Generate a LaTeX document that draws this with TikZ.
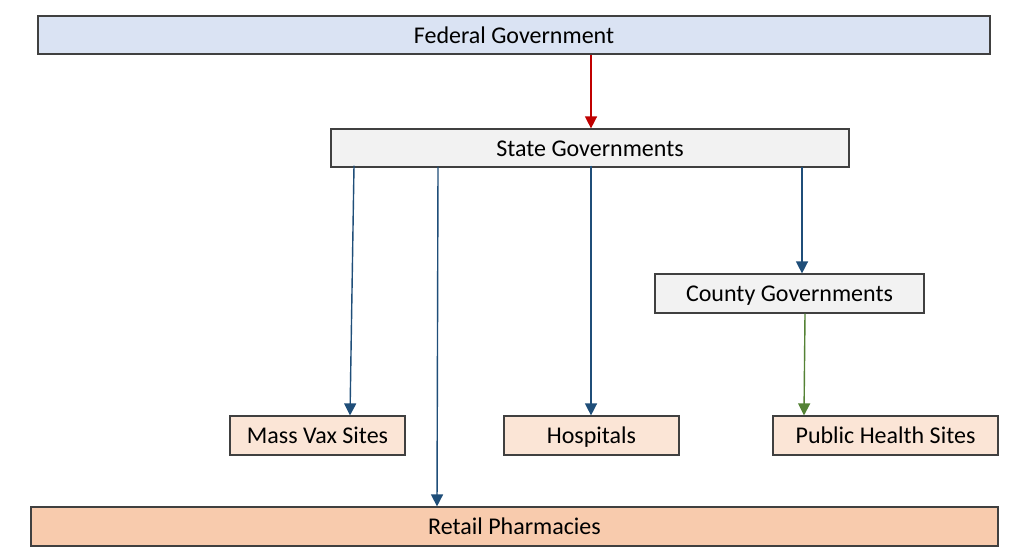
\documentclass[tikz,border=0pt]{standalone}
\usepackage{fontspec}
\setmainfont{Carlito}
\usetikzlibrary{arrows.meta}
\definecolor{fedfill}{HTML}{DAE3F3}
\definecolor{grayfill}{HTML}{F2F2F2}
\definecolor{peachfill}{HTML}{FBE5D6}
\definecolor{retailfill}{HTML}{F8CBAD}
\definecolor{boxline}{HTML}{404040}
\definecolor{redarrow}{HTML}{C00000}
\definecolor{bluearrow}{HTML}{1F4E79}
\definecolor{greenarrow}{HTML}{548235}
\tikzset{
  box/.style={draw=boxline, line width=1.2pt, inner sep=0pt, font=\fontsize{24}{28}\selectfont, text=black, text height=19pt, text depth=3pt},
  conn/.style={line width=1.4pt, -{Triangle[width=12pt,length=12pt]}},
}
\begin{document}
\begin{tikzpicture}[x=1pt,y=-1pt]
\useasboundingbox (0,0) rectangle (1024,557);
\fill[white] (0,0) rectangle (1024,557);
\node[box, fill=fedfill, minimum width=952pt, minimum height=38pt] (fed) at (514,35) {Federal Government};
\node[box, fill=grayfill, minimum width=518pt, minimum height=38pt] (state) at (590,148) {State Governments};
\node[box, fill=grayfill, minimum width=269pt, minimum height=39pt] (county) at (789.5,293.5) {County Governments};
\node[box, fill=peachfill, minimum width=175pt, minimum height=39pt] (mass) at (317.5,435.5) {Mass Vax Sites};
\node[box, fill=peachfill, minimum width=175pt, minimum height=39pt] (hosp) at (591.5,435.5) {Hospitals};
\node[box, fill=peachfill, minimum width=225pt, minimum height=39pt] (phs) at (885.5,435.5) {Public Health Sites};
\node[box, fill=retailfill, minimum width=967pt, minimum height=39pt] (retail) at (514.5,526.5) {Retail Pharmacies};

\draw[conn, redarrow] (fed.south -| 591,0) -- (state.north -| 591,0);
\draw[conn, bluearrow] ([yshift=2pt]state.south -| 354,0) -- (mass.north -| 350,0);
\draw[conn, bluearrow] ([yshift=1pt]state.south -| 438,0) -- (retail.north -| 437,0);
\draw[conn, bluearrow] ([yshift=2pt]state.south -| 591,0) -- (hosp.north -| 591,0);
\draw[conn, bluearrow] ([yshift=1pt]state.south -| 802,0) -- (county.north -| 802,0);
\draw[conn, greenarrow] (county.south -| 805,0) -- (phs.north -| 804,0);
\end{tikzpicture}
\end{document}
